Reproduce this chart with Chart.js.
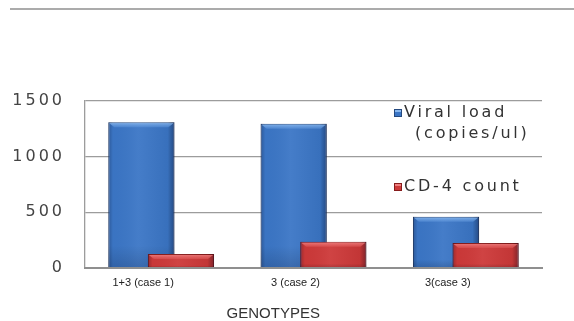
<!DOCTYPE html>
<html>
<head>
<meta charset="utf-8">
<script src="https://cdn.jsdelivr.net/npm/chart.js@4/dist/chart.umd.min.js"></script>
<style>
  html, body { margin: 0; padding: 0; background: #fff; }
  #wrap { position: relative; width: 574px; height: 321px; overflow: hidden; }
  #rule { position: absolute; left: 10px; top: 8px; width: 564px; height: 2px; background: #ababab; }
  #c { position: absolute; left: 0; top: 0; }
</style>
</head>
<body>
<div id="wrap">
  <div id="rule"></div>
  <canvas id="c" width="574" height="321"></canvas>
</div>
<script>
// Genotype cases and their measurements
const categories = ['1+3 (case 1)', '3 (case 2)', '3(case 3)'];
const viralLoad = [1310, 1295, 460];
const cd4Count = [125, 235, 225];
const yTicks = [0, 500, 1000, 1500];
const seriesNames = [['Viral load', '(copies/ul)'], ['CD-4 count']];
const axisTitle = 'GENOTYPES';

const seriesColors = [
  { fill: '#3b76c6', edge: '#25497e', light: ['rgba(150,195,245,0.85)', 'rgba(95,150,220,0.5)'] },
  { fill: '#cd3939', edge: '#861c1c', light: ['rgba(245,140,140,0.85)', 'rgba(225,90,90,0.5)'] }
];

// Adds the bevelled shading on top of a drawn bar
function shadeBar(ctx, el, light) {
  const p = el.getProps(['x', 'y', 'base', 'width'], true);
  const l = p.x - p.width / 2, r = p.x + p.width / 2;
  const t = Math.min(p.y, p.base), b = Math.max(p.y, p.base);
  const w = r - l, h = b - t;
  ctx.save();
  const g = ctx.createLinearGradient(l, 0, r, 0);
  g.addColorStop(0, 'rgba(0,0,30,0.25)');
  g.addColorStop(0.07, 'rgba(0,0,0,0.02)');
  g.addColorStop(0.45, 'rgba(255,255,255,0.05)');
  g.addColorStop(0.9, 'rgba(0,0,0,0.05)');
  g.addColorStop(1, 'rgba(0,0,30,0.38)');
  ctx.fillStyle = g;
  ctx.fillRect(l, t, w, h);
  const bv = Math.min(5, h / 2);
  const tg = ctx.createLinearGradient(0, t, 0, t + bv);
  tg.addColorStop(0, light[0]);
  tg.addColorStop(1, light[1]);
  ctx.beginPath();
  ctx.moveTo(l + 1, t + 1);
  ctx.lineTo(r - 1, t + 1);
  ctx.lineTo(r - bv - 1, t + bv);
  ctx.lineTo(l + bv + 1, t + bv);
  ctx.closePath();
  ctx.fillStyle = tg;
  ctx.fill();
  const vg = ctx.createLinearGradient(0, t, 0, b);
  vg.addColorStop(0, 'rgba(0,0,0,0)');
  vg.addColorStop(0.85, 'rgba(0,0,0,0)');
  vg.addColorStop(1, 'rgba(0,0,20,0.15)');
  ctx.fillStyle = vg;
  ctx.fillRect(l, t, w, h);
  ctx.restore();
}

const barLook = {
  id: 'barLook',
  beforeDraw(chart) {
    // spaced-out lettering for the value axis
    chart.ctx.letterSpacing = '3px';
  },
  beforeDatasetsDraw(chart) {
    const ctx = chart.ctx;
    ctx.letterSpacing = '0px';
    // first series underneath, second series overlapping it
    chart.data.datasets.forEach((ds, i) => {
      const meta = chart.getDatasetMeta(i);
      if (meta.hidden) return;
      meta.controller.draw();
      meta.data.forEach(el => shadeBar(ctx, el, seriesColors[i].light));
    });
    return false;
  },
  afterDraw(chart) {
    const ctx = chart.ctx;
    const a = chart.chartArea;
    ctx.save();
    // legend
    ctx.letterSpacing = '2.8px';
    ctx.font = '16px "DejaVu Sans"';
    ctx.textBaseline = 'middle';
    ctx.textAlign = 'left';
    const lx = a.right - 148;
    const rows = [a.top + 12, a.top + 86];
    seriesNames.forEach((lines, i) => {
      const cy = rows[i];
      const c = seriesColors[i];
      ctx.fillStyle = c.fill;
      ctx.fillRect(lx, cy - 4, 8, 8);
      ctx.strokeStyle = c.edge;
      ctx.lineWidth = 1;
      ctx.strokeRect(lx + 0.5, cy - 3.5, 7, 7);
      ctx.fillStyle = c.light[0];
      ctx.fillRect(lx + 1, cy - 3, 6, 2);
      ctx.fillStyle = '#333';
      lines.forEach((txt, j) => {
        ctx.fillText(txt, lx + 10 + (j ? 11 : 0), cy + j * 21);
      });
    });
    // category axis title
    ctx.letterSpacing = '0px';
    ctx.font = '15px "Liberation Sans"';
    ctx.textAlign = 'center';
    ctx.fillStyle = '#333';
    ctx.fillText(axisTitle, a.left + (a.right - a.left) * 0.412, a.bottom + 46);
    ctx.restore();
  }
};

new Chart(document.getElementById('c'), {
  type: 'bar',
  data: {
    labels: categories,
    datasets: [
      {
        label: seriesNames[0].join(' '),
        data: viralLoad,
        backgroundColor: seriesColors[0].fill,
        borderColor: seriesColors[0].edge,
        borderWidth: 1,
        categoryPercentage: 0.52,
        barPercentage: 1.67
      },
      {
        label: seriesNames[1].join(' '),
        data: cd4Count,
        backgroundColor: seriesColors[1].fill,
        borderColor: seriesColors[1].edge,
        borderWidth: 1,
        categoryPercentage: 0.52,
        barPercentage: 1.67
      }
    ]
  },
  options: {
    responsive: false,
    animation: false,
    devicePixelRatio: 1,
    layout: { padding: { top: 101, right: 32, left: 0, bottom: 0 } },
    plugins: { legend: { display: false }, tooltip: { enabled: false } },
    scales: {
      x: {
        grid: { display: false, drawTicks: false },
        border: { color: '#8f8f8f', width: 2, z: 1 },
        ticks: {
          z: 1,
          font: { family: 'Liberation Sans', size: 11 },
          color: '#222',
          padding: 8,
          labelOffset: -18,
          maxRotation: 0
        },
        afterFit(s) { s.height = 53; }
      },
      y: {
        min: 0,
        max: 1500,
        afterBuildTicks(s) { s.ticks = yTicks.map(v => ({ value: v })); },
        grid: { color: '#9c9c9c', lineWidth: 1.3, drawTicks: false },
        border: { color: '#9c9c9c', width: 1.3 },
        ticks: {
          font: { family: 'DejaVu Sans', size: 16 },
          color: '#444',
          padding: 20,
          callback: v => String(v)
        },
        afterFit(s) { s.width = 85; }
      }
    }
  },
  plugins: [barLook]
});
</script>
</body>
</html>
